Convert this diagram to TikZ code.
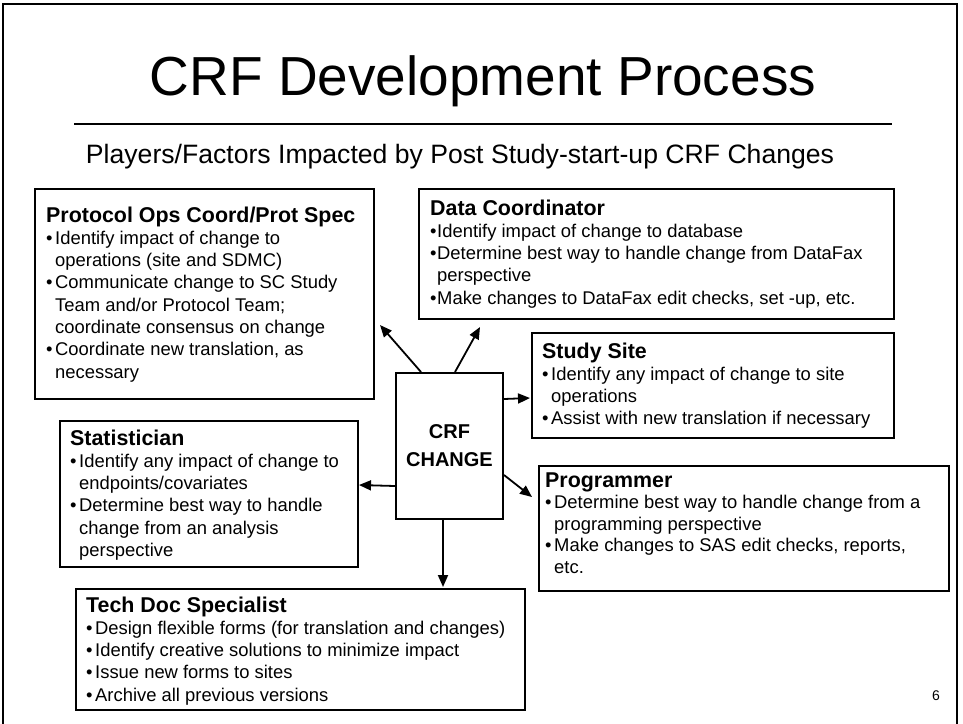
\documentclass[tikz,border=0pt]{standalone}
\usepackage{fontspec}
\setmainfont{Liberation Sans}
\usepackage{tikz}
\usetikzlibrary{arrows.meta,positioning}

\newcommand{\hdfont}{\fontsize{21.4}{22.3}\selectfont\bfseries}
\newcommand{\bodyfont}{\normalfont\fontsize{18.4}{22.3}\selectfont}
\newcommand{\bl}[1][9pt]{\makebox[#1][l]{\textbullet}}
\newcommand{\cn}[1][9pt]{\hspace*{#1}}

\tikzstyle{box} = [draw, line width=2pt, anchor=north west, inner sep=0pt]
\tikzstyle{txt} = [anchor=base west, inner sep=0pt]
\tikzstyle{arrow} = [line width=1.8pt, -{Triangle[length=12pt,width=10pt]}]

\begin{document}
\begin{tikzpicture}[x=1pt, y=-1pt]
\useasboundingbox (0,0) rectangle (963,723);

% Slide frame
\draw[line width=2pt] (3,730) -- (3,4) -- (957,4) -- (957,730);

% Title
\node[anchor=base, inner sep=0pt, font=\fontsize{55}{62}\selectfont] (title) at (483,95) {CRF Development Process};
\draw[line width=1.6pt] (74,124) -- (892,124);
\node[anchor=base, inner sep=0pt, font=\fontsize{26.6}{30}\selectfont] (subtitle) at (460,163)
  {Players/Factors Impacted by Post Study-start-up CRF Changes};

% Center box
\node[box, minimum width=107pt, minimum height=146pt, align=center,
      font=\fontsize{20}{28}\selectfont\bfseries] (crf) at (395,372) {CRF\\CHANGE};

% Protocol Ops
\node[box, minimum width=339pt, minimum height=210pt] (proto) at (34,188) {};
\node[txt] (proto-txt) at (46,222) {\parbox[t]{330pt}{\hdfont Protocol Ops Coord/Prot Spec\\
  \bodyfont\bl Identify impact of change to\\
  \cn operations (site and SDMC)\\
  \bl Communicate change to SC Study\\
  \cn Team and/or Protocol Team;\\
  \cn coordinate consensus on change\\
  \bl Coordinate new translation, as\\
  \cn necessary}};

% Data Coordinator
\node[box, minimum width=475pt, minimum height=130pt] (data) at (418,188) {};
\node[txt] (data-txt) at (430,215) {\parbox[t]{460pt}{\hdfont Data Coordinator\\
  \bodyfont\bl[7pt]Identify impact of change to database\\
  \bl[7pt]Determine best way to handle change from DataFax\\
  \cn[7pt]perspective\\
  \bl[7pt]Make changes to DataFax edit checks, set -up, etc.}};

% Study Site
\node[box, minimum width=362pt, minimum height=105pt] (site) at (531,332) {};
\node[txt] (site-txt) at (542,358) {\parbox[t]{350pt}{\hdfont Study Site\\
  \bodyfont\bl Identify any impact of change to site\\
  \cn operations\\
  \bl Assist with new translation if necessary}};

% Statistician
\node[box, minimum width=298pt, minimum height=146pt] (stat) at (59,420) {};
\node[txt] (stat-txt) at (70,445) {\parbox[t]{290pt}{\hdfont Statistician\\
  \bodyfont\bl Identify any impact of change to\\
  \cn endpoints/covariates\\
  \bl Determine best way to handle\\
  \cn change from an analysis\\
  \cn perspective}};

% Programmer
\node[box, minimum width=410pt, minimum height=125pt] (prog) at (538,465) {};
\node[txt] (prog-txt) at (545,487) {\parbox[t]{400pt}{\hdfont Programmer\\
  \bodyfont\baselineskip=21.5pt\bl Determine best way to handle change from a\\
  \cn programming perspective\\
  \bl Make changes to SAS edit checks, reports,\\
  \cn etc.}};

% Tech Doc
\node[box, minimum width=449pt, minimum height=121pt] (tech) at (75,588) {};
\node[txt] (tech-txt) at (86,612) {\parbox[t]{440pt}{\hdfont Tech Doc Specialist\\
  \bodyfont\bl Design flexible forms (for translation and changes)\\
  \bl Identify creative solutions to minimize impact\\
  \bl Issue new forms to sites\\
  \bl Archive all previous versions}};

% Page number
\node[anchor=base, inner sep=0pt, font=\fontsize{14}{16}\selectfont] (pagenum) at (936,700) {6};

% Arrows out of the CRF box
\coordinate (proto-tip) at (380,325);
\coordinate (data-tip) at (480,327);
\coordinate (site-tip) at (530,398);
\coordinate (stat-tip) at (359,485);
\coordinate (prog-tip) at (532,497);
\coordinate (tech-tip) at (443,587);
\draw[arrow] ([xshift=26pt]crf.north west) -- (proto-tip);
\draw[arrow] ([xshift=60pt]crf.north west) -- (data-tip);
\draw[arrow] ([yshift=47pt]crf.east) -- (site-tip);
\draw[arrow] ([yshift=-40pt]crf.west) -- (stat-tip);
\draw[arrow] ([yshift=-29pt]crf.east) -- (prog-tip);
\draw[arrow] ([xshift=48pt]crf.south west) -- (tech-tip);
\end{tikzpicture}
\end{document}
